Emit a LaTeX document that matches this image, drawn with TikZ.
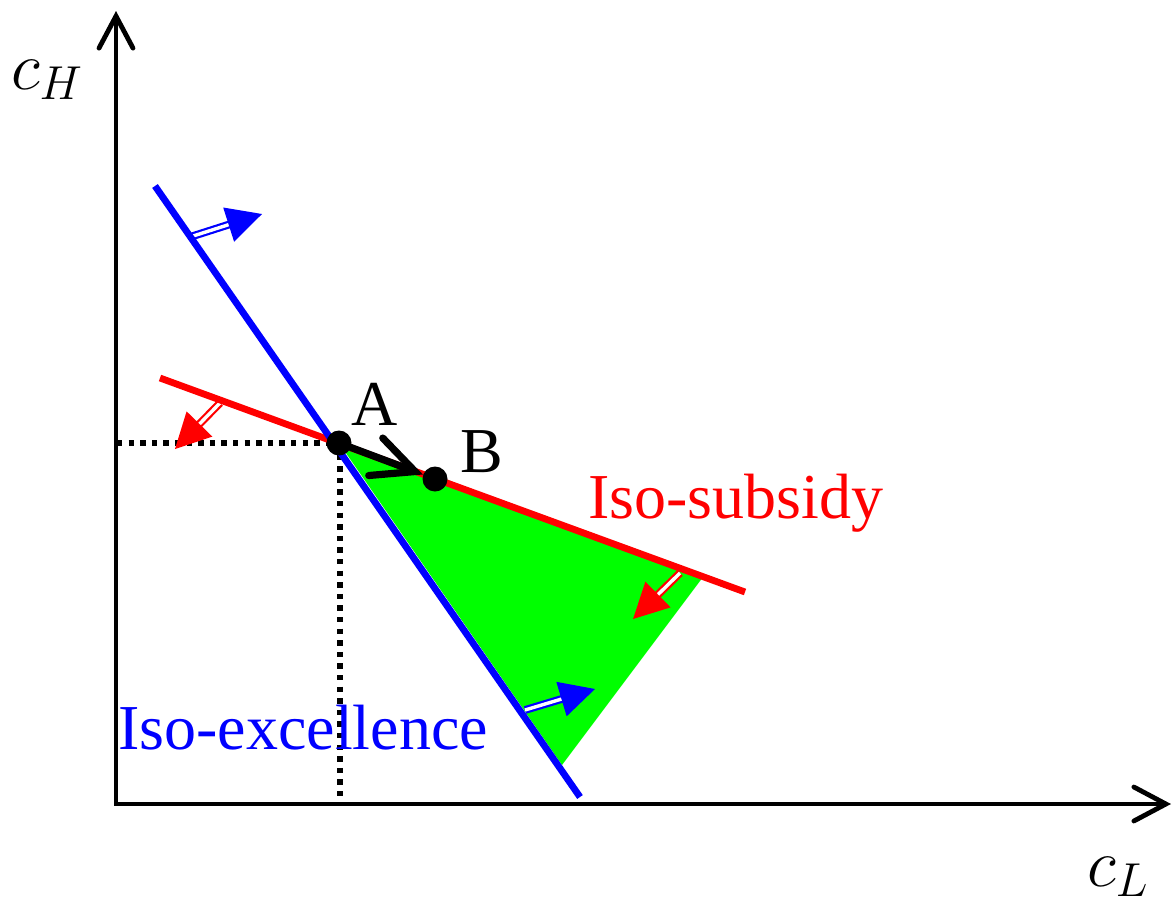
\RequirePackage{fix-cm}
\documentclass[tikz,border=0pt]{standalone}
\usepackage{fontspec}
\setmainfont{Liberation Serif}
\usetikzlibrary{arrows.meta,calc}
\newcommand{\dblarrow}[3]{%
  \coordinate (hb) at ($(#3)!17.5pt!(#2)$);
  \coordinate (hs) at ($(#3)!16pt!(#2)$);
  \draw[line width=1.1pt, draw=#1, double=white, double distance=1.7pt] (#2) -- (hs);
  \fill[#1] (#3) -- ($(hb)!9pt!90:(#3)$) -- ($(hb)!9pt!-90:(#3)$) -- cycle;}
\begin{document}
\begin{tikzpicture}[x=0.5pt,y=-0.5pt,
  axis/.style={line width=2.4pt, line join=miter, {Straight Barb[length=16pt,width=17pt,line width=2.4pt,line cap=round]}-{Straight Barb[length=16pt,width=17pt,line width=2.4pt,line cap=round]}},
  dotline/.style={line width=2.7pt, dash pattern=on 2.7pt off 3.1pt},
  isoline/.style={line width=3.4pt},
  dot/.style={circle, fill=black, inner sep=0pt, minimum size=12.5pt},
  lbl/.style={font=\fontsize{32}{38}\selectfont, inner sep=0pt},
  mlbl/.style={font=\fontsize{34}{40}\selectfont, inner sep=0pt},
  abarrow/.style={line width=3.6pt, line cap=round, -{Straight Barb[length=21pt,width=20pt,line width=3.6pt,line cap=round]}}]
\useasboundingbox (0,0) rectangle (1173,905);
% key points
\coordinate (Pa) at (339,443);
\coordinate (Rend) at (703,577);
\coordinate (Btip) at (562,765);
% green region
\fill[green] (Pa) -- (Rend) -- (Btip) -- cycle;
% dotted guides
\coordinate (Yd) at (117,443);
\coordinate (Xd) at (340,803);
\draw[dotline] (Yd) -- (Pa);
\draw[dotline] (340,443) -- (Xd);
% double arrows
\coordinate (b1s) at (190,237); \coordinate (b1t) at (262,214);
\coordinate (b2s) at (525,710); \coordinate (b2t) at (595,689);
\coordinate (r1s) at (220,403); \coordinate (r1t) at (175,449);
\coordinate (r2s) at (680,573); \coordinate (r2t) at (633,619);
\dblarrow{blue}{b1s}{b1t}
\dblarrow{blue}{b2s}{b2t}
\dblarrow{red}{r1s}{r1t}
\dblarrow{red}{r2s}{r2t}
% iso lines
\coordinate (R0) at (160,378); \coordinate (R1) at (745,592);
\coordinate (B0) at (155,186); \coordinate (B1) at (580,797);
\draw[isoline, red] (R0) -- (R1);
\draw[isoline, blue] (B0) -- (B1);
% points A, B
\node[dot] (A) at (339,443) {};
\node[dot] (B) at (435,479) {};
\draw[abarrow] (A) -- (B);
\node[lbl, anchor=base] (Alab) at (375,425) {A};
\node[lbl, anchor=base] (Blab) at (482,472) {B};
\node[lbl, anchor=base west, text=red] (sub) at (588,518) {Iso-subsidy};
\node[lbl, anchor=base west, text=blue] (exc) at (118,749) {Iso-excellence};
% axes
\coordinate (Ytop) at (116,11);
\coordinate (O) at (116,804);
\coordinate (Xend) at (1171,804);
\draw[axis] (Ytop) -- (O) -- (Xend);
\node[mlbl] (cH) at (47,80) {$c_H$};
\node[mlbl] (cL) at (1118,877) {$c_L$};
\end{tikzpicture}
\end{document}
